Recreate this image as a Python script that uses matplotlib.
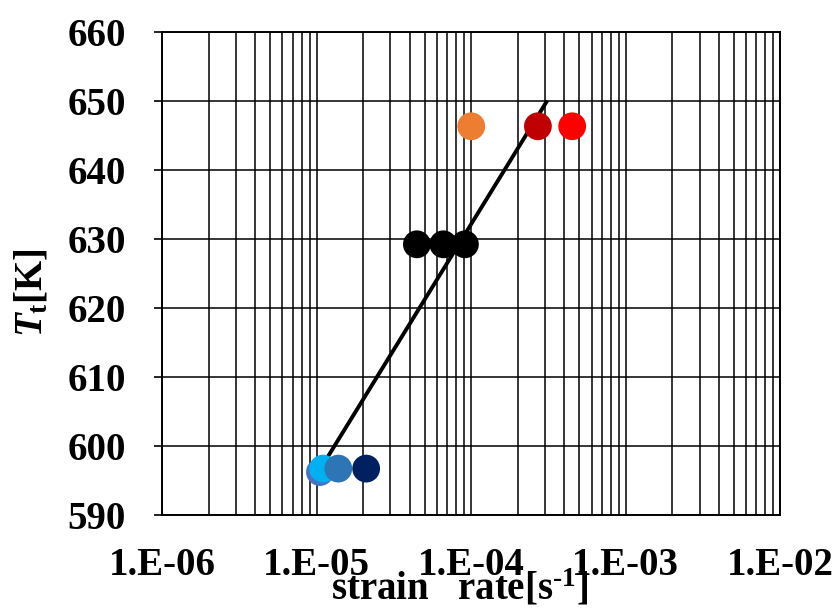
import matplotlib
matplotlib.use("Agg")
import matplotlib.pyplot as plt
from matplotlib.ticker import LogLocator, FixedLocator, NullFormatter

# data
rate_low = [1.05e-5, 1.10e-5, 1.38e-5, 2.09e-5]
temp_low = [596.2, 596.7, 596.7, 596.7]
colors_low = ["#4472C4", "#00B0F0", "#2E75B6", "#002060"]

rate_mid = [4.45e-5, 6.6e-5, 9.1e-5]
temp_mid = [629.2, 629.2, 629.2]
colors_mid = ["#000000", "#000000", "#000000"]

rate_high = [1.0e-4, 2.7e-4, 4.5e-4]
temp_high = [646.3, 646.3, 646.3]
colors_high = ["#ED7D31", "#C00000", "#FF0000"]

fit_rate = [1.1e-5, 3.06e-4]
fit_temp = [597.3, 649.8]

x_ticks = [1e-6, 1e-5, 1e-4, 1e-3, 1e-2]
x_tick_labels = ["1.E-06", "1.E-05", "1.E-04", "1.E-03", "1.E-02"]
y_ticks = [590, 600, 610, 620, 630, 640, 650, 660]

plt.rcParams["font.family"] = ["Liberation Serif", "DejaVu Serif"]
plt.rcParams["font.weight"] = "bold"
plt.rcParams["mathtext.fontset"] = "custom"
plt.rcParams["mathtext.rm"] = "Liberation Serif:bold"
plt.rcParams["mathtext.it"] = "Liberation Serif:bold:italic"
plt.rcParams["mathtext.bf"] = "Liberation Serif:bold"

fig = plt.figure(figsize=(8.4, 6.1), dpi=100)
ax = fig.add_axes([0.193, 0.156, 0.736, 0.792])

ax.set_xscale("log")
ax.set_xlim(1e-6, 1e-2)
ax.set_ylim(590, 660)

ax.xaxis.set_major_locator(FixedLocator(x_ticks))
ax.set_xticklabels(x_tick_labels)
ax.xaxis.set_minor_locator(LogLocator(base=10, subs=range(2, 10), numticks=20))
ax.xaxis.set_minor_formatter(NullFormatter())
ax.set_yticks(y_ticks)

ax.grid(which="major", axis="both", color="black", linewidth=1.1)
ax.grid(which="minor", axis="x", color="black", linewidth=1.1)
ax.set_axisbelow(True)

ax.tick_params(axis="x", which="both", length=0, pad=23, labelsize=28)
ax.tick_params(axis="y", which="major", length=6, width=1.2, direction="out", pad=20, labelsize=28)
for spine in ax.spines.values():
    spine.set_linewidth(1.4)
    spine.set_color("black")

ax.plot(fit_rate, fit_temp, color="black", linewidth=2.8, zorder=2)

for rates, temps, cols in [(rate_low, temp_low, colors_low),
                           (rate_mid, temp_mid, colors_mid),
                           (rate_high, temp_high, colors_high)]:
    ax.scatter(rates, temps, s=400, c=cols, edgecolors="none", zorder=3)

ax.set_xlabel(r"strain   rate[s$^{\text{-1}}$]", fontsize=28, fontweight="bold")
ax.set_ylabel(r"$T_{\mathrm{t}}$[K]", fontsize=28, fontweight="bold")
ax.xaxis.set_label_coords(0.482, -0.11)
ax.yaxis.set_label_coords(-0.18, 0.46)

fig.savefig("out.png", dpi=100)
